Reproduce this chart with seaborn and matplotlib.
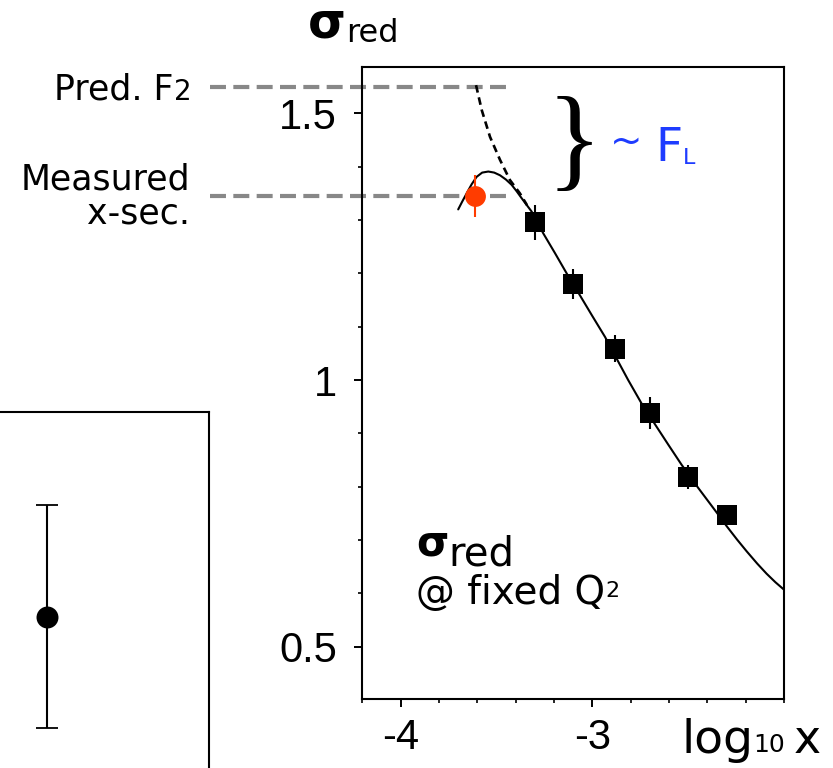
import matplotlib
matplotlib.use("Agg")
import matplotlib.pyplot as plt
import seaborn as sns
import pandas as pd
from matplotlib.ticker import MultipleLocator, FixedLocator

# ---- data -------------------------------------------------------------
# measured reduced cross sections at fixed Q^2 (log10 x, sigma_red, error)
log_x = [-3.30, -3.10, -2.88, -2.70, -2.50, -2.30]
sigma_red = [1.296, 1.180, 1.059, 0.939, 0.818, 0.747]
sigma_err = [0.033, 0.028, 0.025, 0.030, 0.023, 0.015]

# lowest-x point (high y), drawn in red
low_x = [-3.61]
low_sigma = [1.345]
low_err = [0.040]

# QCD fit to sigma_red
fit_x = [-3.700, -3.680, -3.656, -3.630, -3.604, -3.575, -3.543, -3.512,
         -3.482, -3.451, -3.421, -3.395, -3.369, -3.317, -3.256, -3.195,
         -3.134, -3.065, -3.000, -2.934, -2.873, -2.813, -2.743, -2.673,
         -2.604, -2.534, -2.448, -2.352, -2.299, -2.245, -2.195, -2.140,
         -2.091, -2.045, -2.000]
fit_sigma = [1.320, 1.334, 1.350, 1.367, 1.381, 1.389, 1.391, 1.389,
             1.384, 1.376, 1.366, 1.354, 1.341, 1.316, 1.275, 1.238,
             1.200, 1.159, 1.120, 1.081, 1.040, 1.000, 0.956, 0.917,
             0.879, 0.841, 0.798, 0.752, 0.726, 0.701, 0.679, 0.656,
             0.637, 0.621, 0.607]

# prediction from F2 alone
f2_x = [-3.607, -3.577, -3.534, -3.482, -3.430, -3.378, -3.341]
f2_sigma = [1.553, 1.506, 1.456, 1.413, 1.375, 1.350, 1.328]

pred_f2_level = 1.549
measured_level = low_sigma[0]

# single point shown in the side panel
side_x = [0.0]
side_y = [0.0]
side_err = [1.0]

x_major = [-4, -3]
x_major_labels = ["-4", "-3"]
y_major = [0.5, 1.0, 1.5]
y_major_labels = ["0.5", "1", "1.5"]

# ---- style ------------------------------------------------------------
sns.set_style("ticks")
plt.rcParams["font.family"] = ["DejaVu Sans"]
plt.rcParams["lines.scale_dashes"] = False
plt.rcParams["text.color"] = "black"
plt.rcParams["xtick.color"] = "black"
plt.rcParams["ytick.color"] = "black"
plt.rcParams["axes.edgecolor"] = "black"

W, H = 833, 768
fig = plt.figure(figsize=(W / 100, H / 100), dpi=100)
fig.patch.set_facecolor("white")
renderer = fig.canvas.get_renderer()

RED = "#ff3c00"
BLUE = "#1e3cff"
GRAY = "#888888"

# ---- main panel -------------------------------------------------------
ax = fig.add_axes([362 / W, 1 - 699 / H, (784 - 362) / W, (699 - 67) / H])
ax.set_xlim(-4.202, -2.0)
ax.set_ylim(0.402, 1.587)

fit_df = pd.DataFrame({"log_x": fit_x, "sigma": fit_sigma})
sns.lineplot(data=fit_df, x="log_x", y="sigma", sort=False, estimator=None,
             color="black", linewidth=1.5, ax=ax, zorder=2)
f2_df = pd.DataFrame({"log_x": f2_x, "sigma": f2_sigma})
sns.lineplot(data=f2_df, x="log_x", y="sigma", sort=False, estimator=None,
             color="black", linewidth=1.9, ax=ax, zorder=2,
             linestyle=(0, (5.5, 3.5)))

ax.errorbar(log_x, sigma_red, yerr=sigma_err, fmt="none", ecolor="black",
            elinewidth=1.5, capsize=0, zorder=3)
sns.scatterplot(x=log_x, y=sigma_red, marker="s", s=225, color="black",
                linewidth=0, ax=ax, zorder=4)

ax.errorbar(low_x, low_sigma, yerr=low_err, fmt="none", ecolor=RED,
            elinewidth=1.5, capsize=0, zorder=3)
sns.scatterplot(x=low_x, y=low_sigma, marker="o", s=225, color=RED,
                linewidth=0, ax=ax, zorder=4)

# horizontal guide lines running out to the left-hand labels
for level in (pred_f2_level, measured_level):
    ax.plot([-4.995, -3.451], [level, level], color=GRAY, linewidth=3.0,
            linestyle=(0, (11.5, 5.3)), clip_on=False, zorder=1,
            solid_capstyle="butt", dash_capstyle="butt")

ax.xaxis.set_major_locator(FixedLocator(x_major))
ax.set_xticklabels(x_major_labels)
ax.xaxis.set_minor_locator(MultipleLocator(0.2))
ax.yaxis.set_major_locator(FixedLocator(y_major))
ax.set_yticklabels(y_major_labels)
ax.yaxis.set_minor_locator(MultipleLocator(0.1))
ax.tick_params(axis="both", which="major", direction="out", length=6,
               width=1.4, labelsize=30, color="black", labelcolor="black")
ax.tick_params(axis="both", which="minor", direction="out", length=3,
               width=1.2, color="black")
ax.tick_params(axis="x", which="major", pad=8)
ax.tick_params(axis="y", which="major", pad=12)
for lab in ax.get_xticklabels() + ax.get_yticklabels():
    lab.set_fontfamily("Liberation Sans")
for sp in ax.spines.values():
    sp.set_visible(True)
    sp.set_linewidth(1.5)
    sp.set_color("black")
ax.set_xlabel("")
ax.set_ylabel("")

# ---- side panel -------------------------------------------------------
ax2 = fig.add_axes([-115.6 / W, 1 - 821.1 / H, (209 + 115.6) / W,
                    (821.1 - 412.3) / H])
ax2.set_xlim(-1, 1)
ax2.set_ylim(-1.83, 1.83)
ax2.errorbar(side_x, side_y, yerr=side_err, fmt="none", ecolor="black",
             elinewidth=1.5, capsize=8, capthick=1.3)
sns.scatterplot(x=side_x, y=side_y, marker="o", s=250, color="black",
                linewidth=0, ax=ax2, zorder=4)
ax2.set_xticks([])
ax2.set_yticks([])
for sp in ax2.spines.values():
    sp.set_visible(True)
    sp.set_linewidth(1.5)
    sp.set_color("black")


# ---- annotations (positions in pixels, baseline anchored) -------------
def put(px, py, s, **kw):
    kw.setdefault("va", "baseline")
    return fig.text(px / W, 1 - py / H, s, **kw)


def put_after(prev, py, s, gap=0.5, **kw):
    """Place a text piece directly to the right of a previous one."""
    bb = prev.get_window_extent(renderer=renderer)
    return put(bb.x1 + gap, py, s, **kw)


t = put(308, 38, "σ", fontsize=35, fontweight="bold")
put_after(t, 42, "red", fontsize=23)

t = put(173, 100, "Pred. F", fontsize=25, ha="right")
put_after(t, 100, "2", fontsize=20)
put(190, 190, "Measured", fontsize=25, ha="right")
put(190, 224, "x-sec.", fontsize=25, ha="right")

put(574, 136.5, "}", fontsize=83, family="Liberation Serif", ha="center",
    va="center_baseline")
t = put(610, 153, "~", fontsize=28, color=BLUE)
t = put_after(t, 161, "F", fontsize=34, color=BLUE, gap=13)
put_after(t, 164, "L", fontsize=16, color=BLUE)

t = put(416, 555, "σ", fontsize=30, fontweight="bold")
put_after(t, 565, "red", fontsize=29)
t = put(416, 604, "@ fixed Q", fontsize=28)
put_after(t, 597, "2", fontsize=16)

t = put(682, 753, "log", fontsize=34)
t = put_after(t, 752, "10", fontsize=18, gap=-1)
put_after(t, 753, "x", fontsize=33, gap=9)

fig.savefig("out.png", dpi=100, facecolor="white")
